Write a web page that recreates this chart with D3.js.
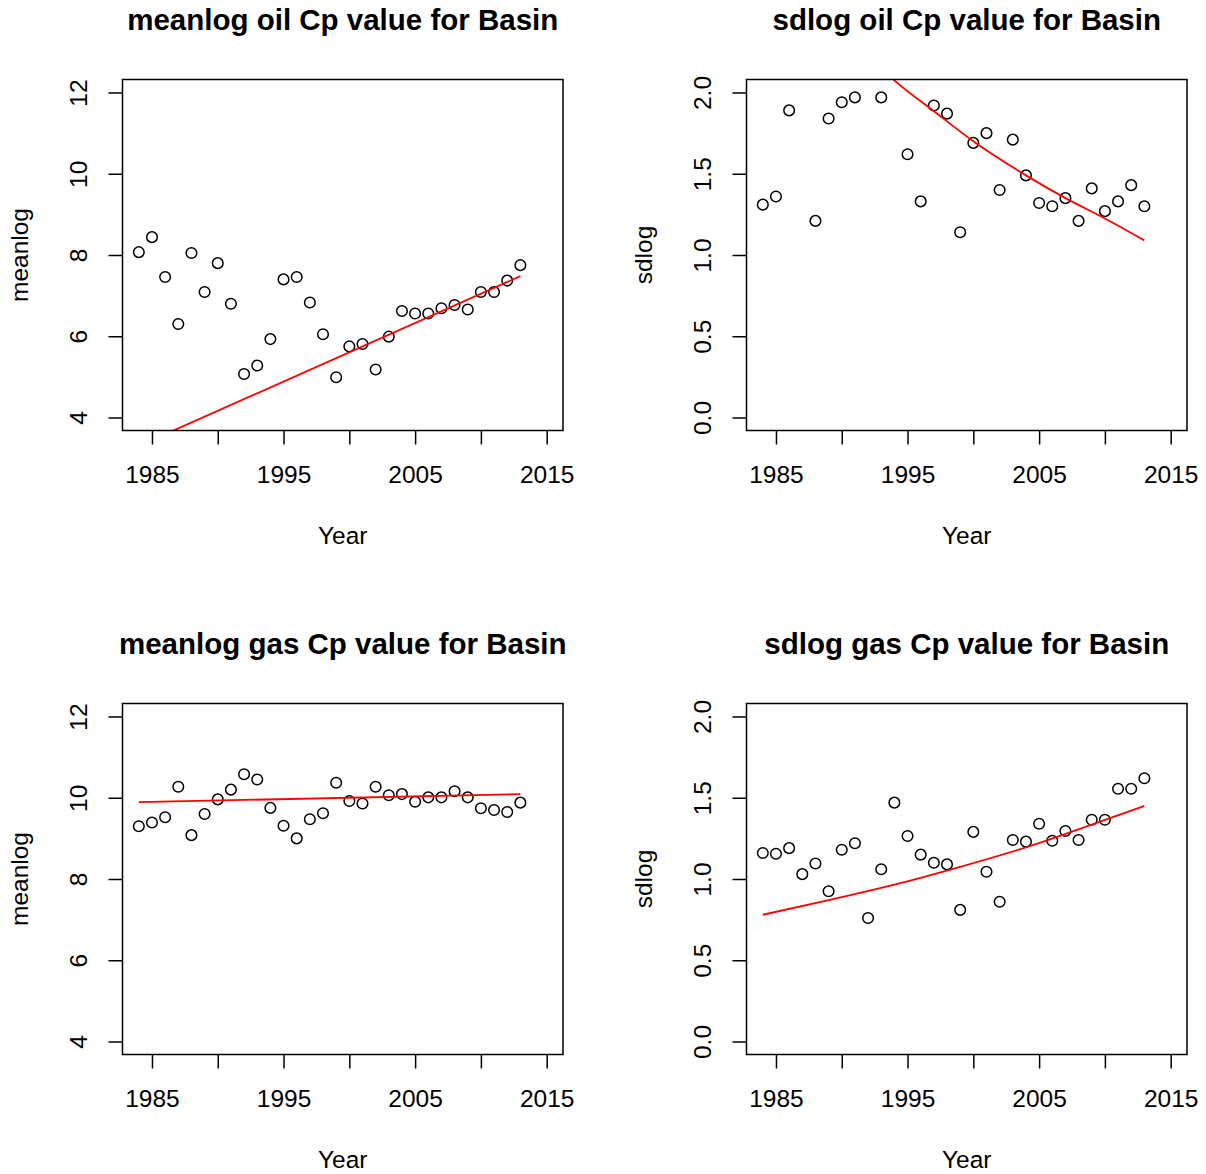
<!DOCTYPE html>
<html>
<head>
<meta charset="utf-8">
<script src="https://cdn.jsdelivr.net/npm/d3@7"></script>
<style>
  body { margin: 0; background: #fff; }
  svg { display: block; font-family: "Liberation Sans", Arial, Helvetica, sans-serif; }
</style>
</head>
<body>
<svg id="chart" width="1206" height="1174"></svg>
<script>
const years = [1984, 1985, 1986, 1987, 1988, 1989, 1990, 1991, 1992, 1993,
  1994, 1995, 1996, 1997, 1998, 1999, 2000, 2001, 2002, 2003,
  2004, 2005, 2006, 2007, 2008, 2009, 2010, 2011, 2012, 2013];

const oilMeanlog = [8.07, 8.44, 7.46, 6.30, 8.05, 7.09, 7.80, 6.80, 5.07, 5.28,
  5.93, 7.40, 7.46, 6.83, 6.05, 4.99, 5.75, 5.81, 5.18, 5.99,
  6.62, 6.56, 6.56, 6.69, 6.77, 6.66, 7.09, 7.09, 7.37, 7.75];

// null = above the plotted range (clipped in the original)
const oilSdlog = [1.31, 1.36, 1.89, null, 1.21, 1.84, 1.94, 1.97, null, 1.97,
  null, 1.62, 1.33, 1.92, 1.87, 1.14, 1.69, 1.75, 1.40, 1.71,
  1.49, 1.32, 1.30, 1.35, 1.21, 1.41, 1.27, 1.33, 1.43, 1.30];

const gasMeanlog = [9.30, 9.39, 9.52, 10.27, 9.08, 9.60, 9.96, 10.20, 10.58, 10.45,
  9.75, 9.31, 9.00, 9.47, 9.62, 10.37, 9.92, 9.86, 10.27, 10.06,
  10.09, 9.90, 10.01, 10.01, 10.16, 10.01, 9.74, 9.70, 9.65, 9.88];

const gasSdlog = [1.16, 1.155, 1.19, 1.03, 1.095, 0.925, 1.18, 1.22, 0.76, 1.06,
  1.47, 1.265, 1.15, 1.10, 1.09, 0.81, 1.29, 1.045, 0.86, 1.24,
  1.23, 1.34, 1.235, 1.295, 1.24, 1.365, 1.365, 1.555, 1.555, 1.62];

// fitted trend lines (red)
const oilMeanFitYears = [1984, 2013];
const oilMeanFit = [3.30, 7.48];
const oilSdFitYears = [1993, 1994, 1997, 2000, 2004, 2007, 2010, 2013];
const oilSdFit = [2.15, 2.075, 1.885, 1.70, 1.49, 1.35, 1.225, 1.09];
const gasMeanFitYears = [1984, 2013];
const gasMeanFit = [9.89, 10.09];
const gasSdFitYears = [1984, 1989, 1994, 1999, 2004, 2009, 2013];
const gasSdFit = [0.78, 0.87, 0.965, 1.075, 1.195, 1.335, 1.45];

const xTicks = [1985, 1990, 1995, 2000, 2005, 2010, 2015];
const xTickLabels = ["1985", "", "1995", "", "2005", "", "2015"];
const meanlogTicks = [4, 6, 8, 10, 12];
const sdlogTicks = [0, 0.5, 1, 1.5, 2];

const svg = d3.select("#chart");

const box = { left: 122.5, right: 563, top: 79.5, bottom: 430.5 };

const panels = [
  { title: "meanlog oil Cp value for Basin", ylab: "meanlog", values: oilMeanlog,
    fitYears: oilMeanFitYears, fit: oilMeanFit, yTicks: meanlogTicks, yLim: [4, 12],
    fmt: d3.format("d"), dx: 0, dy: 0 },
  { title: "sdlog oil Cp value for Basin", ylab: "sdlog", values: oilSdlog,
    fitYears: oilSdFitYears, fit: oilSdFit, yTicks: sdlogTicks, yLim: [0, 2],
    fmt: d3.format(".1f"), dx: 624, dy: 0 },
  { title: "meanlog gas Cp value for Basin", ylab: "meanlog", values: gasMeanlog,
    fitYears: gasMeanFitYears, fit: gasMeanFit, yTicks: meanlogTicks, yLim: [4, 12],
    fmt: d3.format("d"), dx: 0, dy: 624 },
  { title: "sdlog gas Cp value for Basin", ylab: "sdlog", values: gasSdlog,
    fitYears: gasSdFitYears, fit: gasSdFit, yTicks: sdlogTicks, yLim: [0, 2],
    fmt: d3.format(".1f"), dx: 624, dy: 624 }
];

panels.forEach((p, i) => drawPanel(p, i));

function drawPanel(p, i) {
  const g = svg.append("g").attr("transform", `translate(${p.dx}, ${p.dy})`);

  // R style 4% axis extension
  const pad = (p.yLim[1] - p.yLim[0]) * 0.04;
  const x = d3.scaleLinear().domain([1982.76, 2016.24]).range([box.left, box.right]);
  const y = d3.scaleLinear().domain([p.yLim[0] - pad, p.yLim[1] + pad]).range([box.bottom, box.top]);

  const clipId = `clip-${i}`;
  g.append("clipPath").attr("id", clipId)
    .append("rect")
    .attr("x", box.left).attr("y", box.top)
    .attr("width", box.right - box.left).attr("height", box.bottom - box.top);

  const plot = g.append("g").attr("clip-path", `url(#${clipId})`);

  const pts = years.map((yr, j) => ({ year: yr, value: p.values[j] }))
    .filter(d => d.value != null);

  plot.selectAll("circle")
    .data(pts)
    .enter()
    .append("circle")
    .attr("cx", d => x(d.year))
    .attr("cy", d => y(d.value))
    .attr("r", 5.3)
    .attr("fill", "none")
    .attr("stroke", "#000")
    .attr("stroke-width", 1.5);

  const fitData = p.fitYears.map((yr, j) => [yr, p.fit[j]]);
  plot.append("path")
    .datum(fitData)
    .attr("fill", "none")
    .attr("stroke", "#ff0000")
    .attr("stroke-width", 1.8)
    .attr("d", d3.line().x(d => x(d[0])).y(d => y(d[1])).curve(d3.curveMonotoneX));

  // box
  g.append("rect")
    .attr("x", box.left).attr("y", box.top)
    .attr("width", box.right - box.left).attr("height", box.bottom - box.top)
    .attr("fill", "none").attr("stroke", "#000").attr("stroke-width", 1.5);

  const xAxis = g.append("g")
    .attr("transform", `translate(0, ${box.bottom})`)
    .call(d3.axisBottom(x).tickValues(xTicks).tickFormat((d, k) => xTickLabels[k]).tickSize(14));
  xAxis.select(".domain").remove();
  xAxis.selectAll("line").attr("stroke-width", 1.5);
  xAxis.selectAll("text")
    .attr("y", 52).attr("dy", 0)
    .attr("font-size", "24.5px")
    .attr("font-family", "Liberation Sans, Arial, sans-serif")
    .attr("fill", "#000");

  const yAxis = g.append("g")
    .attr("transform", `translate(${box.left}, 0)`)
    .call(d3.axisLeft(y).tickValues(p.yTicks).tickFormat(p.fmt).tickSize(14));
  yAxis.select(".domain").remove();
  yAxis.selectAll("line").attr("stroke-width", 1.5);
  yAxis.selectAll("text")
    .attr("transform", "rotate(-90)")
    .attr("x", 0).attr("y", -36).attr("dy", 0)
    .attr("text-anchor", "middle")
    .attr("font-size", "24.5px")
    .attr("font-family", "Liberation Sans, Arial, sans-serif")
    .attr("fill", "#000");

  const cx = (box.left + box.right) / 2;
  const cy = (box.top + box.bottom) / 2;

  g.append("text")
    .attr("x", cx).attr("y", 30)
    .attr("text-anchor", "middle")
    .attr("font-size", "29.5px")
    .attr("font-weight", "bold")
    .text(p.title);

  g.append("text")
    .attr("x", cx).attr("y", box.bottom + 113)
    .attr("text-anchor", "middle")
    .attr("font-size", "24.5px")
    .text("Year");

  g.append("text")
    .attr("transform", `translate(${box.left - 95}, ${cy}) rotate(-90)`)
    .attr("text-anchor", "middle")
    .attr("font-size", "24.5px")
    .text(p.ylab);
}
</script>
</body>
</html>
